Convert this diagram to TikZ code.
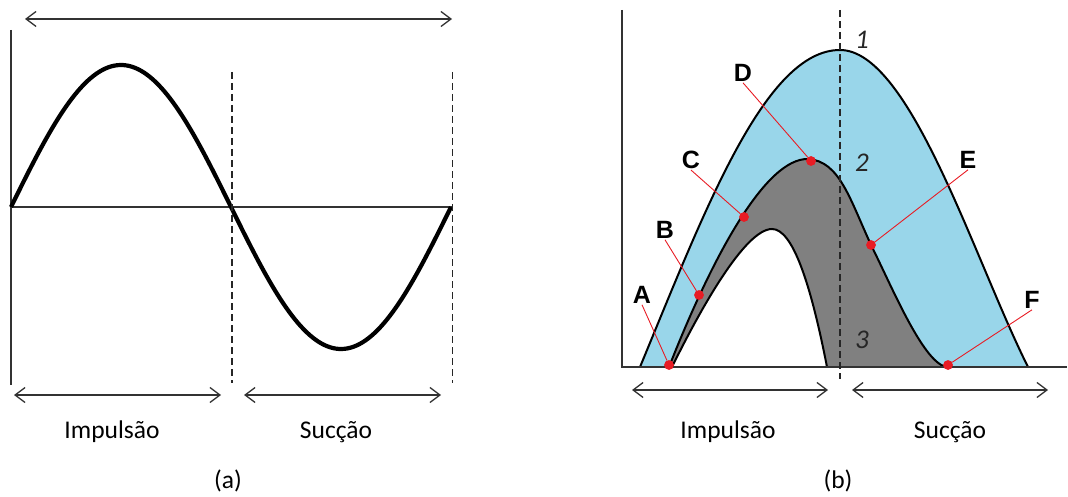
\documentclass[tikz,border=0pt]{standalone}
\usepackage{fontspec}
\setmainfont{Carlito}
\newfontfamily\lblfont{Liberation Sans}
\usetikzlibrary{arrows.meta}
\definecolor{bandblue}{RGB}{153,214,234}
\definecolor{bandgray}{RGB}{128,128,128}
\definecolor{dotred}{RGB}{232,28,36}
\definecolor{arrgray}{RGB}{50,50,50}
\begin{document}
\begin{tikzpicture}[x=1pt,y=-1pt,
  span/.style={arrgray, line width=1.3pt, {Straight Barb[length=10pt,width=15pt]}-{Straight Barb[length=10pt,width=15pt]}},
  axisline/.style={black!80, line width=1.5pt},
  dashline/.style={black!85, line width=1.4pt, dash pattern=on 7pt off 4pt},
  curve/.style={black, line width=2pt},
  caption/.style={font=\fontsize{25.5}{28}\selectfont, anchor=base, inner sep=0pt},
  num/.style={font=\fontsize{27}{29}\selectfont\itshape, text=black!85, inner sep=1pt},
  ptlabel/.style={font=\lblfont\bfseries\fontsize{25}{27}\selectfont, inner sep=1pt},
  dot/.style={circle, fill=dotred, inner sep=0pt, minimum size=9.5pt},
  redline/.style={dotred, line width=0.9pt}
]
\useasboundingbox (0,0) rectangle (1068,497);

% ---------- panel (a) ----------
\coordinate (aTL) at (25,19);
\coordinate (aTR) at (452,19);
\draw[span] (aTL) -- (aTR);

\coordinate (aVtop) at (11,30);
\coordinate (aVbot) at (11,385);
\coordinate (aO) at (11,207);
\coordinate (aHend) at (452,207);
\draw[axisline] (aVtop) -- (aVbot);
\draw[axisline, line width=1.3pt] (aO) -- (aHend);

\draw[line width=4.2pt] plot[domain=11:451, samples=150, smooth] (\x, {207-142*sin((\x-11)/440*360)});

\coordinate (aD1t) at (232,72);
\coordinate (aD1b) at (232,383);
\coordinate (aD2t) at (452,72);
\coordinate (aD2b) at (452,383);
\draw[dashline] (aD1t) -- (aD1b);
\draw[dashline, line width=1pt] (aD2t) -- (aD2b);

\coordinate (aL1) at (14,395);
\coordinate (aL2) at (221,395);
\coordinate (aR1) at (244,395);
\coordinate (aR2) at (441,395);
\draw[span] (aL1) -- (aL2);
\draw[span] (aR1) -- (aR2);

\node[caption] (aimp) at (112,438) {Impulsão};
\node[caption] (asuc) at (336,438) {Sucção};
\node[caption] (acap) at (228,488) {(a)};

% ---------- panel (b) ----------
% outer region (1)
\fill[bandblue] (640,367) .. controls (705,210) and (765,50) .. (840,50)
  .. controls (910,50) and (974,259) .. (1028,367) -- cycle;
% gray band (2)
\fill[bandgray] (669,367) .. controls (713,255) and (766,158) .. (808,159)
  .. controls (840,161) and (850,200) .. (872,247)
  .. controls (892,287) and (925,367) .. (948,367) -- cycle;
% inner white (3)
\fill[white] (672,367) .. controls (700,310) and (745,229) .. (772,229)
  .. controls (792,229) and (810,280) .. (827,367) -- cycle;

\draw[curve] (640,367) .. controls (705,210) and (765,50) .. (840,50)
  .. controls (910,50) and (974,259) .. (1028,367);
\draw[curve] (669,367) .. controls (713,255) and (766,158) .. (808,159)
  .. controls (840,161) and (850,200) .. (872,247)
  .. controls (892,287) and (925,367) .. (948,367);
\draw[curve] (672,367) .. controls (700,310) and (745,229) .. (772,229)
  .. controls (792,229) and (810,280) .. (827,367);

\coordinate (bVtop) at (622,10);
\coordinate (bO) at (622,367);
\coordinate (bHend) at (1067,367);
\draw[axisline] (bVtop) -- (bO) -- (bHend);

\coordinate (bDt) at (840,10);
\coordinate (bDb) at (840,379);
\draw[dashline, line width=1.2pt] (bDt) -- (bDb);

\node[num] (n1) at (862,40) {1};
\node[num] (n2) at (862,163) {2};
\node[num] (n3) at (862,340) {3};

\node[dot] (A) at (669,365) {};
\node[dot] (B) at (699,295) {};
\node[dot] (C) at (744,217) {};
\node[dot] (D) at (811,161) {};
\node[dot] (E) at (871,245) {};
\node[dot] (F) at (948,365) {};

\node[ptlabel] (lA) at (642,295) {A};
\node[ptlabel] (lB) at (665,230) {B};
\node[ptlabel] (lC) at (691,160) {C};
\node[ptlabel] (lD) at (743,73) {D};
\node[ptlabel] (lE) at (968,160) {E};
\node[ptlabel] (lF) at (1032,300) {F};

\draw[redline] (lA.south) -- (A);
\draw[redline] (lB.south) -- (B);
\draw[redline] (lC.south) -- (C);
\draw[redline] (lD.south) -- (D);
\draw[redline] (lE.south) -- (E);
\draw[redline] (lF.south) -- (F);
\node[dot] at (A) {};
\node[dot] at (B) {};
\node[dot] at (C) {};
\node[dot] at (D) {};
\node[dot] at (E) {};
\node[dot] at (F) {};

\coordinate (bL1) at (632,390);
\coordinate (bL2) at (828,390);
\coordinate (bR1) at (852,390);
\coordinate (bR2) at (1048,390);
\draw[span] (bL1) -- (bL2);
\draw[span] (bR1) -- (bR2);

\node[caption] (bimp) at (728,438) {Impulsão};
\node[caption] (bsuc) at (950,438) {Sucção};
\node[caption] (bcap) at (838,488) {(b)};
\end{tikzpicture}
\end{document}
